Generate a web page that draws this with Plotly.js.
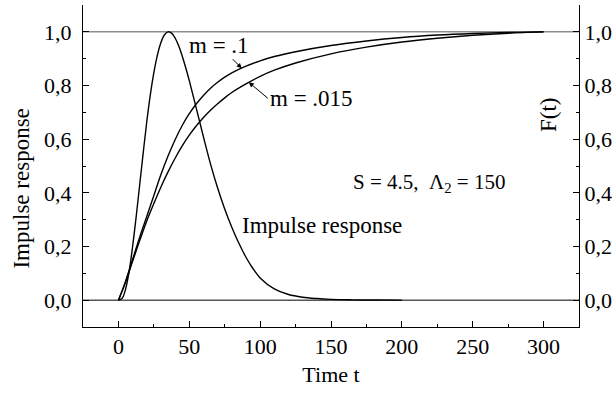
<!DOCTYPE html>
<html>
<head>
<meta charset="utf-8">
<script src="https://cdn.plot.ly/plotly-3.0.1.min.js"></script>
<style>
  html, body { margin: 0; padding: 0; background: #fff; }
  #chart { width: 616px; height: 394px; }
</style>
</head>
<body>
<div id="chart"></div>
<script>
// ---- data ----
const tImpulse = [0, 2.5, 5, 7.5, 10, 12.5, 15, 17.5, 20, 22.5, 25, 27.5, 30, 32.5, 35, 37.5, 40, 42.5, 45, 47.5, 50, 55, 60, 65, 70, 75, 80, 85, 90, 95, 100, 110, 120, 130, 140, 150, 165, 180, 200];
const impulse  = [0, 0.006, 0.04, 0.105, 0.2, 0.31, 0.43, 0.55, 0.665, 0.765, 0.848, 0.913, 0.96, 0.989, 1.0, 0.995, 0.977, 0.948, 0.91, 0.866, 0.818, 0.714, 0.608, 0.507, 0.418, 0.34, 0.272, 0.212, 0.16, 0.117, 0.083, 0.042, 0.021, 0.011, 0.006, 0.003, 0.0012, 0.0004, 0];

const tF     = [0, 5, 10, 15, 20, 25, 30, 35, 40, 45, 50, 55, 60, 65, 70, 75, 80, 90, 100, 110, 125, 150, 175, 200, 225, 250, 275, 300];
const F_m1   = [0, 0.07, 0.152, 0.235, 0.312, 0.39, 0.468, 0.537, 0.598, 0.651, 0.695, 0.732, 0.763, 0.79, 0.812, 0.831, 0.847, 0.872, 0.892, 0.908, 0.926, 0.949, 0.966, 0.979, 0.988, 0.994, 0.998, 1.0];
const F_m015 = [0, 0.066, 0.145, 0.222, 0.295, 0.36, 0.422, 0.478, 0.529, 0.575, 0.615, 0.65, 0.681, 0.708, 0.732, 0.754, 0.774, 0.806, 0.834, 0.857, 0.884, 0.918, 0.943, 0.962, 0.976, 0.987, 0.995, 1.0];

const xTickVals = [0, 50, 100, 150, 200, 250, 300];
const xTickText = ['0', '50', '100', '150', '200', '250', '300'];
const yTickVals = [0, 0.2, 0.4, 0.6, 0.8, 1.0];
const yTickText = ['0,0', '0,2', '0,4', '0,6', '0,8', '1,0'];
const refLevels = [0, 1];

// ---- styling ----
const FONT = 'Liberation Serif, Times New Roman, serif';
const lineStyle = {color: '#000', width: 1.4, shape: 'spline', smoothing: 1};

const traces = [
  {x: tImpulse, y: impulse, mode: 'lines', line: lineStyle, hoverinfo: 'skip'},
  {x: tF, y: F_m1, mode: 'lines', line: lineStyle, hoverinfo: 'skip'},
  {x: tF, y: F_m015, mode: 'lines', line: lineStyle, hoverinfo: 'skip'},
  {x: [null], y: [null], yaxis: 'y2', mode: 'lines', hoverinfo: 'skip'}
];

const axisCommon = {
  showline: true, linecolor: '#000', linewidth: 1,
  ticks: 'inside', ticklen: 6, tickwidth: 1, tickcolor: '#000',
  showgrid: false, zeroline: false,
  tickfont: {family: FONT, size: 22, color: '#000'}
};
const yMinor = {dtick: 0.1, tick0: 0, ticks: 'inside', ticklen: 3, tickcolor: '#000'};
const labelFont = {family: FONT, size: 23, color: '#000'};

const layout = {
  width: 616, height: 394,
  margin: {l: 83, r: 37, t: 5, b: 67, pad: 0},
  paper_bgcolor: '#fff', plot_bgcolor: '#fff',
  showlegend: false,
  font: {family: FONT, size: 22, color: '#000'},
  xaxis: Object.assign({}, axisCommon, {
    range: [-25, 325], tickmode: 'array', tickvals: xTickVals, ticktext: xTickText,
    minor: {dtick: 25, tick0: 0, ticks: 'inside', ticklen: 3, tickcolor: '#000'},
    title: {text: 'Time t', font: {family: FONT, size: 22, color: '#000'}, standoff: 8}
  }),
  yaxis: Object.assign({}, axisCommon, {
    range: [-0.1, 1.1], tickmode: 'array', tickvals: yTickVals, ticktext: yTickText,
    minor: yMinor, ticklabelstandoff: 6
  }),
  yaxis2: Object.assign({}, axisCommon, {
    range: [-0.1, 1.1], tickmode: 'array', tickvals: yTickVals, ticktext: yTickText,
    minor: yMinor, overlaying: 'y', side: 'right', anchor: 'x'
  }),
  shapes: refLevels.map((v, i) => ({
    type: 'line', xref: 'paper', x0: 0, x1: 1, yref: 'y', y0: v, y1: v,
    line: {color: i === 0 ? '#000' : '#555', width: 1}, layer: 'below'
  })),
  annotations: [
    {xref: 'paper', yref: 'paper', x: 0, xshift: -61, y: 0.43, text: 'Impulse response',
     textangle: -90, showarrow: false, xanchor: 'center', yanchor: 'middle', font: labelFont},
    {xref: 'paper', yref: 'y', x: 1, xshift: -31, y: 0.69, text: 'F(t)',
     textangle: -90, showarrow: false, xanchor: 'center', yanchor: 'middle', font: labelFont},
    // label with its arrow pointing at the m = .1 curve
    {x: 87, y: 0.8645, text: 'm = .1', showarrow: true, arrowhead: 2, arrowsize: 1, arrowwidth: 1,
     arrowcolor: '#000', ax: -23, ay: -23, standoff: 0, font: labelFont},
    // label with its arrow pointing at the m = .015 curve
    {x: 92, y: 0.812, text: 'm = .015', showarrow: true, arrowhead: 2, arrowsize: 1, arrowwidth: 1,
     arrowcolor: '#000', ax: 19, ay: 16, standoff: 0, xanchor: 'left', yanchor: 'middle', font: labelFont},
    {x: 164, y: 0.437, text: 'S = 4.5,  \u039B<sub>2</sub> = 150', showarrow: false, xanchor: 'left', yanchor: 'middle',
     font: {family: FONT, size: 21, color: '#000'}},
    {x: 86, y: 0.28, text: 'Impulse response', showarrow: false, xanchor: 'left', yanchor: 'middle', font: labelFont}
  ]
};

Plotly.newPlot('chart', traces, layout, {staticPlot: true, displayModeBar: false});
</script>
</body>
</html>
